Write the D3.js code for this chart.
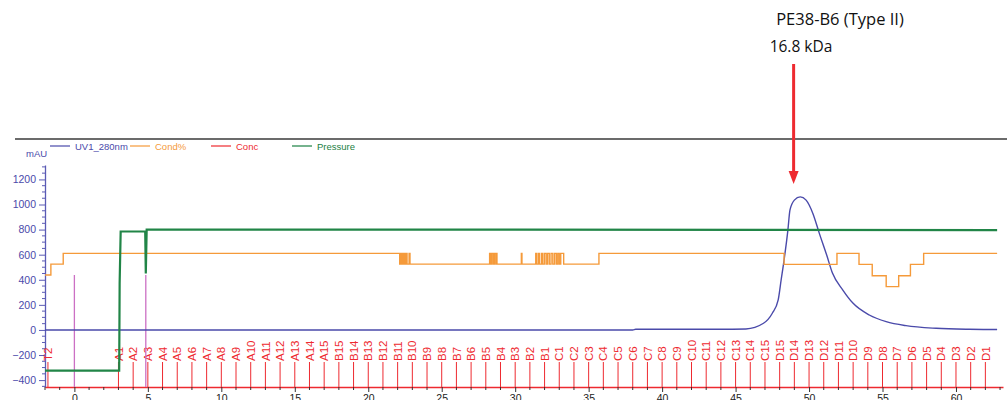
<!DOCTYPE html>
<html>
<head>
<meta charset="utf-8">
<script src="https://cdn.jsdelivr.net/npm/d3@7"></script>
<style>
  body { margin: 0; background: #fff; }
  svg { display: block; font-family: Arial, "Liberation Sans", sans-serif; }
</style>
</head>
<body>
<svg id="chart" width="1007" height="400"></svg>
<script>
// UV1_280nm trace [mL, mAU]
const uvData = [
  [-2, 0], [38, 0], [38.2, 5], [43.9, 5], [45.7, 8], [46.9, 53], [47.5, 133], [47.9, 239],
  [48.1, 398], [48.3, 557], [48.56, 796], [48.7, 955], [49.0, 1035], [49.4, 1061],
  [49.8, 1035], [50.26, 929], [50.7, 770], [51.2, 597], [51.6, 451], [52.3, 318],
  [53.0, 212], [54.1, 119], [55.25, 66], [56.6, 34], [58.65, 13], [60.9, 5], [62.8, 3]
];

// Cond% trace, step after [mL, value on mAU scale]
const condData = [
  [-2, 438], [-1.6, 525], [-0.76, 610], [22.14, 525], [22.18, 610], [22.22, 525], [22.26, 610],
  [22.3, 525], [22.34, 610], [22.38, 525], [22.42, 610], [22.46, 525], [22.5, 610], [22.54, 525],
  [22.58, 610], [22.64, 525], [22.78, 610], [22.84, 525], [28.26, 610], [28.34, 525],
  [28.4, 610], [28.5, 525], [28.58, 610], [28.68, 525], [28.72, 610], [28.76, 525],
  [30.42, 610], [30.46, 525], [31.4, 610], [31.46, 525], [31.58, 610], [31.64, 525],
  [31.78, 610], [31.86, 525], [31.98, 610], [32.1, 525], [32.2, 610], [32.32, 525],
  [32.44, 610], [32.56, 525], [32.68, 610], [32.8, 525], [32.9, 610], [33.0, 525],
  [33.1, 610], [33.3, 525], [35.7, 610], [48.3, 523], [51.9, 610], [53.4, 523],
  [54.3, 432], [55.25, 345], [56.1, 432], [56.9, 523], [57.8, 610], [62.8, 610]
];

// Pressure trace [mL, value on mAU scale]
const pressureData = [
  [-2, -324], [3.05, -324], [3.08, 370], [3.15, 785], [4.82, 785], [4.86, 450],
  [4.92, 800], [30, 800], [62.8, 796]
];

// injection marks [mL]
const injectMarks = [0, 4.86];
const injectTop = 438;

// fraction labels and positions [mL]
const fractionNames = [
  'T2', 'A1', 'A2', 'A3', 'A4', 'A5', 'A6', 'A7', 'A8', 'A9', 'A10', 'A11', 'A12', 'A13', 'A14', 'A15',
  'B15', 'B14', 'B13', 'B12', 'B11', 'B10', 'B9', 'B8', 'B7', 'B6', 'B5', 'B4', 'B3', 'B2', 'B1',
  'C1', 'C2', 'C3', 'C4', 'C5', 'C6', 'C7', 'C8', 'C9', 'C10', 'C11', 'C12', 'C13', 'C14', 'C15',
  'D15', 'D14', 'D13', 'D12', 'D11', 'D10', 'D9', 'D8', 'D7', 'D6', 'D5', 'D4', 'D3', 'D2', 'D1'
];
const fractionPos = [
  -1.8, 3, 4, 5, 6, 7, 8, 9, 10, 11, 12, 13, 14, 15, 16, 17,
  18, 19, 20, 21, 22, 23, 24, 25, 26, 27, 28, 29, 30, 31, 32,
  33, 34, 35, 36, 37, 38, 39, 40, 41, 42, 43, 44, 45, 46, 47,
  48, 49, 50, 51, 52, 53, 54, 55, 56, 57, 58, 59, 60, 61, 62
];

const yTicks = [-400, -200, 0, 200, 400, 600, 800, 1000, 1200];
const xTicks = [0, 5, 10, 15, 20, 25, 30, 35, 40, 45, 50, 55, 60];

const legendNames = ['UV1_280nm', 'Cond%', 'Conc', 'Pressure'];
const legendColors = ['#4a4aaa', '#f59a3a', '#ee2a30', '#1b8043'];

const peakLabel = 'PE38-B6 (Type II)';
const peakMass = '16.8 kDa';
const peakArrowAt = 48.95;

const svg = d3.select('#chart');

const x = d3.scaleLinear().domain([-2, 63.2]).range([45, 1003]);
const y = d3.scaleLinear().domain([-455, 1315]).range([387, 165]);

// header rule
svg.append('line')
  .attr('x1', 15).attr('x2', 1007)
  .attr('y1', 139).attr('y2', 139)
  .attr('stroke', '#3a3a3a').attr('stroke-width', 1.5);

// legend
const legend = svg.append('g');
const legendX = [50, 130, 211, 292];
legendNames.forEach((name, i) => {
  legend.append('line')
    .attr('x1', legendX[i]).attr('x2', legendX[i] + 20)
    .attr('y1', 146).attr('y2', 146)
    .attr('stroke', legendColors[i]).attr('stroke-width', 1.2);
  legend.append('text')
    .attr('x', legendX[i] + 25).attr('y', 149.5)
    .attr('font-size', 9.5)
    .attr('fill', legendColors[i])
    .text(name);
});

svg.append('text')
  .attr('x', 26).attr('y', 157)
  .attr('font-size', 9.5)
  .attr('fill', '#4a4aaa')
  .text('mAU');

// y axis
const yAxis = svg.append('g')
  .attr('transform', 'translate(45,0)')
  .call(d3.axisLeft(y).tickValues(yTicks).tickFormat(d3.format('d')).tickSize(6).tickSizeOuter(0));
yAxis.select('.domain').attr('stroke', '#5a5ab4').attr('stroke-width', 1.3);
yAxis.selectAll('line').attr('stroke', '#5a5ab4');
yAxis.selectAll('text').attr('fill', '#4a4aaa').attr('font-size', 10.5)
  .attr('font-family', 'Arial, "Liberation Sans", sans-serif');

svg.append('g')
  .attr('transform', 'translate(45,0)')
  .selectAll('line')
  .data(d3.range(-450, 1301, 50).filter((v) => v % 200 !== 0))
  .enter()
  .append('line')
  .attr('x1', -3).attr('x2', 0)
  .attr('y1', (d) => y(d)).attr('y2', (d) => y(d))
  .attr('stroke', '#5a5ab4');

// x axis
const xAxis = svg.append('g')
  .attr('transform', 'translate(0,387)')
  .call(d3.axisBottom(x).tickValues(xTicks).tickSize(5).tickSizeOuter(0));
xAxis.select('.domain').attr('stroke', '#ee2a30').attr('stroke-width', 1.3);
xAxis.selectAll('line').attr('stroke', '#333');
xAxis.selectAll('text').attr('fill', '#222').attr('font-size', 10.5)
  .attr('font-family', 'Arial, "Liberation Sans", sans-serif');

svg.append('g')
  .attr('transform', 'translate(0,387)')
  .selectAll('line')
  .data(d3.range(-2, 64, 1).filter((v) => v % 5 !== 0))
  .enter()
  .append('line')
  .attr('x1', (d) => x(d)).attr('x2', (d) => x(d))
  .attr('y1', 0).attr('y2', 3)
  .attr('stroke', '#333');

// fractions
const frac = svg.append('g')
  .selectAll('g')
  .data(fractionNames.map((n, i) => ({ name: n, pos: fractionPos[i] })))
  .enter()
  .append('g');

frac.append('line')
  .attr('x1', (d) => x(d.pos)).attr('x2', (d) => x(d.pos))
  .attr('y1', 362).attr('y2', 387)
  .attr('stroke', '#ee2a30');

frac.append('text')
  .attr('transform', (d) => 'translate(' + x(d.pos) + ',361) rotate(-90)')
  .attr('dy', '0.36em')
  .attr('font-size', 11.5)
  .attr('fill', '#ee2a30')
  .text((d) => d.name);

// injection marks
svg.append('g')
  .selectAll('line')
  .data(injectMarks)
  .enter()
  .append('line')
  .attr('x1', (d) => x(d)).attr('x2', (d) => x(d))
  .attr('y1', y(injectTop)).attr('y2', 387)
  .attr('stroke', '#cc70c4').attr('stroke-width', 1.3);

// traces
const line = d3.line().x((d) => x(d[0])).y((d) => y(d[1]));

svg.append('path')
  .datum(uvData)
  .attr('d', line.curve(d3.curveMonotoneX))
  .attr('fill', 'none')
  .attr('stroke', '#4a4aaa')
  .attr('stroke-width', 1.4);

svg.append('path')
  .datum(condData)
  .attr('d', d3.line().x((d) => x(d[0])).y((d) => y(d[1])).curve(d3.curveStepAfter))
  .attr('fill', 'none')
  .attr('stroke', '#f59a3a')
  .attr('stroke-width', 1.4);

svg.append('path')
  .datum(pressureData)
  .attr('d', d3.line().x((d) => x(d[0])).y((d) => y(d[1])))
  .attr('fill', 'none')
  .attr('stroke', '#218547')
  .attr('stroke-width', 2.2);

// annotation
svg.append('text')
  .attr('x', 840).attr('y', 25)
  .attr('text-anchor', 'middle')
  .attr('font-family', '"Open Sans", sans-serif')
  .attr('font-size', 16.5)
  .attr('fill', '#111')
  .text(peakLabel);

svg.append('text')
  .attr('x', 801).attr('y', 51.5)
  .attr('text-anchor', 'middle')
  .attr('font-family', '"Open Sans", sans-serif')
  .attr('font-size', 15.5)
  .attr('fill', '#111')
  .text(peakMass);

const ax = x(peakArrowAt);
svg.append('line')
  .attr('x1', ax).attr('x2', ax)
  .attr('y1', 64).attr('y2', 172)
  .attr('stroke', '#ee2a30').attr('stroke-width', 3);
svg.append('path')
  .attr('d', 'M' + (ax - 5) + ',171 L' + (ax + 5) + ',171 L' + ax + ',184 Z')
  .attr('fill', '#ee2a30');
</script>
</body>
</html>
